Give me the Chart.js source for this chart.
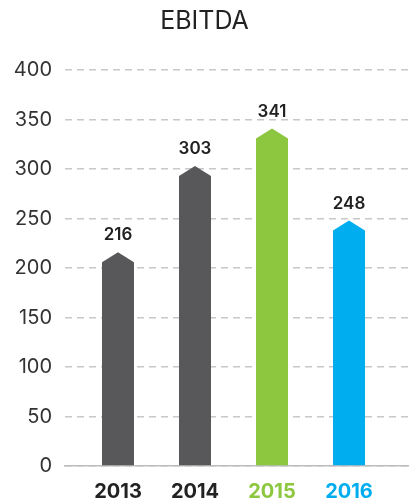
<!DOCTYPE html>
<html>
<head>
<meta charset="utf-8">
<script src="https://cdn.jsdelivr.net/npm/chart.js@4.4.1/dist/chart.umd.min.js"></script>
<style>
  html, body { margin: 0; padding: 0; background: #fff; }
  #wrap { width: 409px; height: 500px; }
</style>
</head>
<body>
<div id="wrap"><canvas id="myChart"></canvas></div>
<script>
// --- Data ---
const years = ['2013', '2014', '2015', '2016'];
const ebitda = [216, 303, 341, 248];
const barColors = ['#58585a', '#58585a', '#8dc63f', '#00aeef'];
const yearColors = ['#222222', '#222222', '#8dc63f', '#00aeef'];
const yTicks = [0, 50, 100, 150, 200, 250, 300, 350, 400];

const FONT = "Inter, 'Open Sans', sans-serif";

// Bars drawn as arrow-topped shapes, using the bar elements' own geometry
const arrowBars = {
    id: 'arrowBars',
    beforeDatasetDraw(chart, args) {
        const ctx = chart.ctx;
        const meta = args.meta;
        ctx.save();
        meta.data.forEach((bar, i) => {
            const half = bar.width / 2;
            const tip = 10;
            ctx.fillStyle = barColors[i];
            ctx.beginPath();
            ctx.moveTo(bar.x - half, bar.base);
            ctx.lineTo(bar.x - half, bar.y + tip);
            ctx.lineTo(bar.x, bar.y);
            ctx.lineTo(bar.x + half, bar.y + tip);
            ctx.lineTo(bar.x + half, bar.base);
            ctx.closePath();
            ctx.fill();

            // value label above the tip
            ctx.fillStyle = '#222';
            ctx.font = '600 17px ' + FONT;
            ctx.textAlign = 'center';
            ctx.textBaseline = 'middle';
            ctx.fillText(String(ebitda[i]), bar.x, bar.y - 17);
        });
        ctx.restore();
        return false;
    }
};

const ctx = document.getElementById('myChart');

const myChart = new Chart(ctx, {
    type: 'bar',
    data: {
        datasets: [{
            data: ebitda.map((v, i) => ({ x: i, y: v })),
            backgroundColor: barColors,
            barThickness: 32,
        }]
    },
    options: {
        responsive: true,
        maintainAspectRatio: false,
        animation: false,
        layout: { padding: { left: 0, right: 0, top: 0, bottom: 0 } },
        plugins: {
            legend: { display: false },
            tooltip: { enabled: false },
            title: {
                display: true,
                text: 'EBITDA',
                color: '#222',
                font: { family: FONT, size: 25, weight: 'normal' },
                padding: { top: 6, bottom: 34 }
            }
        },
        scales: {
            x: {
                type: 'linear',
                offset: false,
                min: -0.688,
                max: 3.779,
                grid: { display: false },
                border: { display: true, color: '#bdbdbd', width: 1.5 },
                afterBuildTicks(scale) {
                    scale.ticks = years.map((y, i) => ({ value: i }));
                },
                afterFit(scale) { scale.height = 34; },
                ticks: {
                    autoSkip: false,
                    maxRotation: 0,
                    padding: 6,
                    color: (c) => yearColors[c.index],
                    font: { family: FONT, size: 20, weight: 'bold' },
                    callback: (v) => years[v]
                }
            },
            y: {
                min: 0,
                max: 400,
                afterBuildTicks(scale) {
                    scale.ticks = yTicks.map(v => ({ value: v }));
                },
                afterFit(scale) { scale.width = 65; },
                grid: { color: '#c8c8c8', lineWidth: 1.5, drawTicks: false },
                border: { display: false, dash: [7, 5] },
                ticks: {
                    padding: 13,
                    color: '#333',
                    font: { family: FONT, size: 20, weight: 'normal' }
                }
            }
        }
    },
    plugins: [arrowBars]
});
</script>
</body>
</html>
